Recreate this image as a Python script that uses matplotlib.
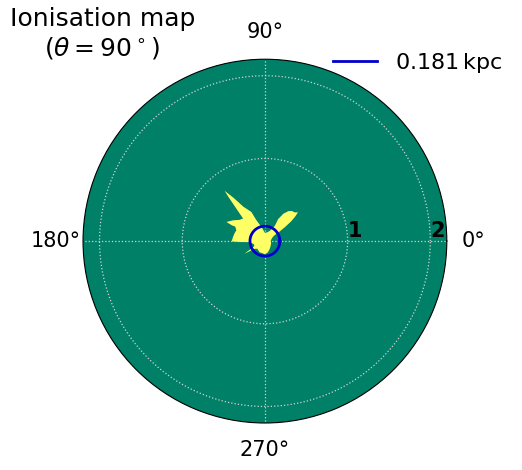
import numpy as np
import matplotlib.pyplot as plt

# edge of the ionised region, traced round the map (angle in deg, radius in kpc)
front_deg = [0, 15, 25, 30, 32, 33, 35, 37, 39, 41, 44, 48, 52, 56, 59, 57, 64,
             75, 90, 103, 112, 115, 122, 126, 128.7, 129.5, 131, 132.5, 134,
             140, 146.8, 153.6, 154.5, 154, 159, 166, 173, 179, 180.5, 182, 184,
             195, 205, 209, 211, 212, 213, 216, 225, 245, 260, 270, 285, 302,
             320, 340, 360]
front_kpc = [0.07, 0.08, 0.10, 0.12, 0.15, 0.21, 0.30, 0.40, 0.47, 0.53, 0.50,
             0.49, 0.46, 0.40, 0.31, 0.22, 0.14, 0.11, 0.10, 0.17, 0.27, 0.39,
             0.49, 0.65, 0.78, 0.70, 0.55, 0.45, 0.38, 0.40, 0.46, 0.52, 0.44,
             0.40, 0.37, 0.38, 0.39, 0.40, 0.40, 0.30, 0.18, 0.14, 0.14, 0.19,
             0.26, 0.29, 0.24, 0.16, 0.13, 0.15, 0.15, 0.16, 0.14, 0.11, 0.09,
             0.08, 0.07]
r_circle = 0.181
r_max = 2.2
r_ticks = [1, 2]
theta_ticks = [0, 90, 180, 270]

cmap = plt.get_cmap('summer')

fig = plt.figure(figsize=(5.22, 4.70), dpi=100)
ax = fig.add_axes([0.159, 0.1, 0.697, 0.774], projection='polar')
ax.set_facecolor(cmap(0.0))

ax.fill(np.radians(front_deg), front_kpc, color=cmap(1.0), lw=0, zorder=2)

phi = np.linspace(0, 2 * np.pi, 200)
ax.plot(phi, np.full_like(phi, r_circle), color='#0000cc', lw=2,
        label=f'{r_circle}$\\,$kpc', zorder=3)

ax.set_ylim(0, r_max)
ax.set_yticks(r_ticks)
ax.set_yticklabels([str(t) for t in r_ticks], fontsize=15, fontweight='bold')
ax.set_rlabel_position(0)
for lab in ax.get_yticklabels():
    lab.set_ha('left')
    lab.set_va('bottom')
ax.set_xticks(np.radians(theta_ticks))
ax.set_xticklabels([f'{t}°' for t in theta_ticks], fontsize=15)
ax.tick_params(axis='x', pad=9)
ax.grid(True, color='lightgrey', ls=':', lw=0.9)

fig.text(0.196, 0.985, 'Ionisation map\n($\\theta=90^\\circ$)',
         ha='center', va='top', fontsize=18)
fig.legend(loc='upper right', bbox_to_anchor=(1.0, 0.935), frameon=False,
           fontsize=16)

fig.savefig('out.png')
